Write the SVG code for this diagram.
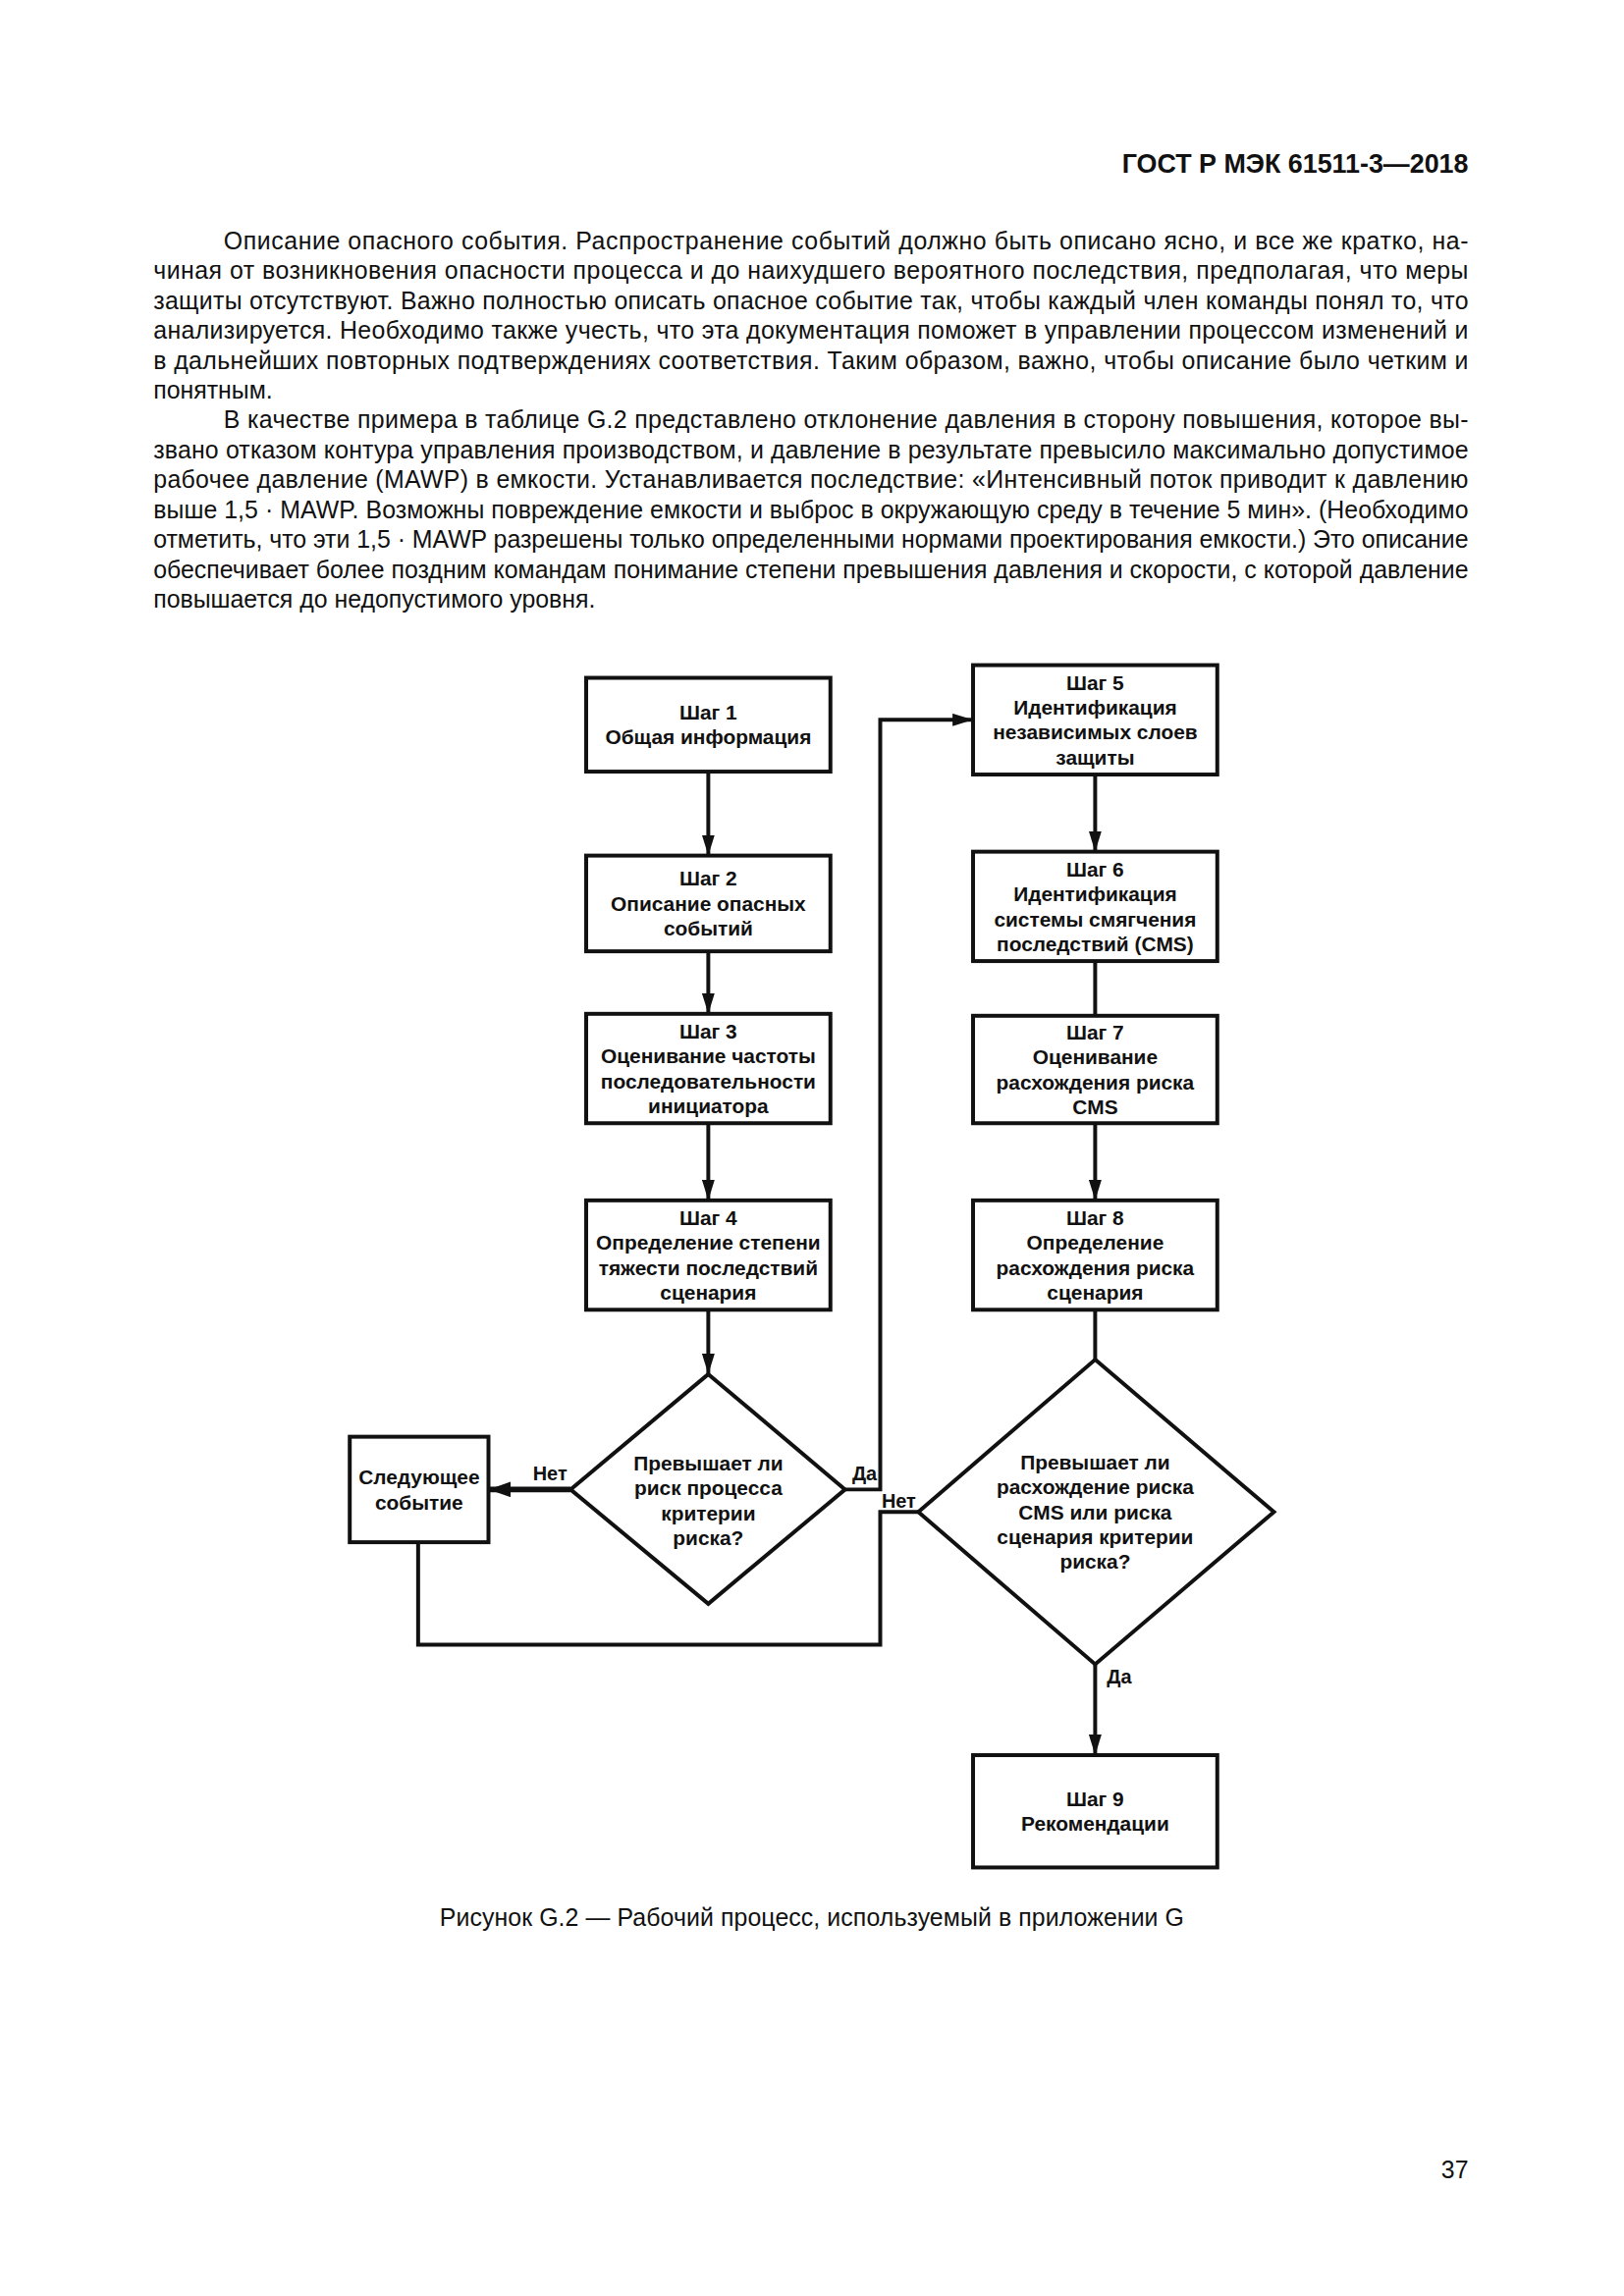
<svg xmlns="http://www.w3.org/2000/svg" width="1654" height="2339" viewBox="0 0 1654 2339">
<style>
.bg{fill:#ffffff}
.body{font-family:"Liberation Sans",Arial,sans-serif;font-size:25px;fill:#111}
.hdr{font-family:"Liberation Sans",Arial,sans-serif;font-size:27px;font-weight:bold;fill:#111}
.box{fill:#fff;stroke:#111;stroke-width:4}
.t{font-family:"Liberation Sans",Arial,sans-serif;font-size:21px;font-weight:bold;fill:#111;text-anchor:middle}
.lbl{font-family:"Liberation Sans",Arial,sans-serif;font-size:20px;font-weight:bold;fill:#111}
.ln{fill:none;stroke:#111;stroke-width:4}
.thick{fill:none;stroke:#111;stroke-width:6}
</style>
<defs>
<marker id="ah" markerUnits="userSpaceOnUse" markerWidth="21" markerHeight="13" refX="21" refY="6.5" orient="auto"><path d="M0,0 L21,6.5 L0,13 z" fill="#111"/></marker>
<marker id="ahb" markerUnits="userSpaceOnUse" markerWidth="23" markerHeight="16" refX="23" refY="8" orient="auto"><path d="M0,0 L23,8 L0,16 z" fill="#111"/></marker>
</defs>
<rect class="bg" x="0" y="0" width="1654" height="2339"/>
<g transform="scale(0.995)">
<g id="page-text">
<text class="hdr" x="1503" y="177" text-anchor="end">ГОСТ Р МЭК 61511-3—2018</text>
<text class="body" x="229" y="255" textLength="1274" lengthAdjust="spacing">Описание опасного события. Распространение событий должно быть описано ясно, и все же кратко, на-</text>
<text class="body" x="157" y="285.6" textLength="1346" lengthAdjust="spacing">чиная от возникновения опасности процесса и до наихудшего вероятного последствия, предполагая, что меры</text>
<text class="body" x="157" y="316.2" textLength="1346" lengthAdjust="spacing">защиты отсутствуют. Важно полностью описать опасное событие так, чтобы каждый член команды понял то, что</text>
<text class="body" x="157" y="346.8" textLength="1346" lengthAdjust="spacing">анализируется. Необходимо также учесть, что эта документация поможет в управлении процессом изменений и</text>
<text class="body" x="157" y="377.4" textLength="1346" lengthAdjust="spacing">в дальнейших повторных подтверждениях соответствия. Таким образом, важно, чтобы описание было четким и</text>
<text class="body" x="157" y="408">понятным.</text>
<text class="body" x="229" y="438.6" textLength="1274" lengthAdjust="spacing">В качестве примера в таблице G.2 представлено отклонение давления в сторону повышения, которое вы-</text>
<text class="body" x="157" y="469.2" textLength="1346" lengthAdjust="spacing">звано отказом контура управления производством, и давление в результате превысило максимально допустимое</text>
<text class="body" x="157" y="499.8" textLength="1346" lengthAdjust="spacing">рабочее давление (MAWP) в емкости. Устанавливается последствие: «Интенсивный поток приводит к давлению</text>
<text class="body" x="157" y="530.4" textLength="1346" lengthAdjust="spacing">выше 1,5 · MAWP. Возможны повреждение емкости и выброс в окружающую среду в течение 5 мин». (Необходимо</text>
<text class="body" x="157" y="561" textLength="1346" lengthAdjust="spacing">отметить, что эти 1,5 · MAWP разрешены только определенными нормами проектирования емкости.) Это описание</text>
<text class="body" x="157" y="591.6" textLength="1346" lengthAdjust="spacing">обеспечивает более поздним командам понимание степени превышения давления и скорости, с которой давление</text>
<text class="body" x="157" y="622.2">повышается до недопустимого уровня.</text>
<text class="body" x="450" y="1972" textLength="762" lengthAdjust="spacing">Рисунок G.2 — Рабочий процесс, используемый в приложении G</text>
<text class="body" x="1503" y="2230" text-anchor="end">37</text>
</g>
<g id="connectors">
<path class="ln" d="M725,790 V876" marker-end="url(#ah)"/>
<path class="ln" d="M725,974 V1038" marker-end="url(#ah)"/>
<path class="ln" d="M725,1150 V1229" marker-end="url(#ah)"/>
<path class="ln" d="M725,1341 V1407" marker-end="url(#ah)"/>
<path class="thick" d="M584,1525 H500" marker-end="url(#ahb)"/>
<path class="ln" d="M865,1525 H901 V737 H996" marker-end="url(#ah)"/>
<path class="ln" d="M1121,793 V872" marker-end="url(#ah)"/>
<path class="ln" d="M1121,984 V1040"/>
<path class="ln" d="M1121,1150 V1229" marker-end="url(#ah)"/>
<path class="ln" d="M1121,1341 V1392"/>
<path class="ln" d="M940,1548 H901 V1684 H428 V1579"/>
<path class="ln" d="M1121,1704 V1797" marker-end="url(#ah)"/>
<text class="lbl" x="563" y="1516" text-anchor="middle">Нет</text>
<text class="lbl" x="885" y="1516" text-anchor="middle">Да</text>
<text class="lbl" x="920" y="1544" text-anchor="middle">Нет</text>
<text class="lbl" x="1133" y="1724">Да</text>
</g>
<g id="step1">
<rect class="box" x="600" y="694" width="250" height="96"/>
<text class="t" x="725" y="736.5">Шаг 1</text>
<text class="t" x="725" y="762">Общая информация</text>
</g>
<g id="step2">
<rect class="box" x="600" y="876" width="250" height="98"/>
<text class="t" x="725" y="907">Шаг 2</text>
<text class="t" x="725" y="932.5">Описание опасных</text>
<text class="t" x="725" y="958">событий</text>
</g>
<g id="step3">
<rect class="box" x="600" y="1038" width="250" height="112"/>
<text class="t" x="725" y="1063.25">Шаг 3</text>
<text class="t" x="725" y="1088.75">Оценивание частоты</text>
<text class="t" x="725" y="1114.25">последовательности</text>
<text class="t" x="725" y="1139.75">инициатора</text>
</g>
<g id="step4">
<rect class="box" x="600" y="1229" width="250" height="112"/>
<text class="t" x="725" y="1254.25">Шаг 4</text>
<text class="t" x="725" y="1279.75">Определение степени</text>
<text class="t" x="725" y="1305.25">тяжести последствий</text>
<text class="t" x="725" y="1330.75">сценария</text>
</g>
<g id="decision1">
<path class="box" d="M725,1407 L865,1525 L725,1642 L584,1525 Z"/>
<text class="t" x="725" y="1505.5">Превышает ли</text>
<text class="t" x="725" y="1531">риск процесса</text>
<text class="t" x="725" y="1556.5">критерии</text>
<text class="t" x="725" y="1582">риска?</text>
</g>
<g id="next-event">
<rect class="box" x="358" y="1471" width="142" height="108"/>
<text class="t" x="429" y="1519.75">Следующее</text>
<text class="t" x="429" y="1545.25">событие</text>
</g>
<g id="step5">
<rect class="box" x="996" y="681" width="250" height="112"/>
<text class="t" x="1121" y="706.25">Шаг 5</text>
<text class="t" x="1121" y="731.75">Идентификация</text>
<text class="t" x="1121" y="757.25">независимых слоев</text>
<text class="t" x="1121" y="782.75">защиты</text>
</g>
<g id="step6">
<rect class="box" x="996" y="872" width="250" height="112"/>
<text class="t" x="1121" y="897.25">Шаг 6</text>
<text class="t" x="1121" y="922.75">Идентификация</text>
<text class="t" x="1121" y="948.25">системы смягчения</text>
<text class="t" x="1121" y="973.75">последствий (CMS)</text>
</g>
<g id="step7">
<rect class="box" x="996" y="1040" width="250" height="110"/>
<text class="t" x="1121" y="1064.25">Шаг 7</text>
<text class="t" x="1121" y="1089.75">Оценивание</text>
<text class="t" x="1121" y="1115.25">расхождения риска</text>
<text class="t" x="1121" y="1140.75">CMS</text>
</g>
<g id="step8">
<rect class="box" x="996" y="1229" width="250" height="112"/>
<text class="t" x="1121" y="1254.25">Шаг 8</text>
<text class="t" x="1121" y="1279.75">Определение</text>
<text class="t" x="1121" y="1305.25">расхождения риска</text>
<text class="t" x="1121" y="1330.75">сценария</text>
</g>
<g id="decision2">
<path class="box" d="M1121,1392 L1304,1548 L1121,1704 L940,1548 Z"/>
<text class="t" x="1121" y="1504.5">Превышает ли</text>
<text class="t" x="1121" y="1530">расхождение риска</text>
<text class="t" x="1121" y="1555.5">CMS или риска</text>
<text class="t" x="1121" y="1581">сценария критерии</text>
<text class="t" x="1121" y="1606.5">риска?</text>
</g>
<g id="step9">
<rect class="box" x="996" y="1797" width="250" height="115"/>
<text class="t" x="1121" y="1849.25">Шаг 9</text>
<text class="t" x="1121" y="1874.75">Рекомендации</text>
</g>
</g>
</svg>
